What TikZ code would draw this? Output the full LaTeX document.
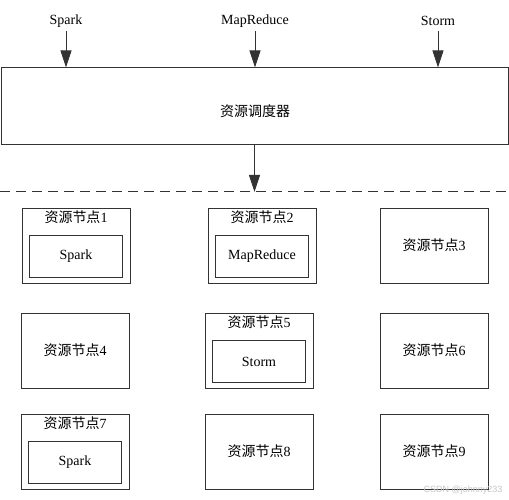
\documentclass[tikz,border=0pt]{standalone}
\usepackage{fontspec}
\setmainfont{Liberation Serif}
\newfontfamily\cjk{Noto Sans CJK SC}
\newfontfamily\wmfont{Liberation Sans}
\usetikzlibrary{arrows.meta}
\newcommand{\zynode}[1]{{\cjk 资源节点}#1}
\begin{document}
\begin{tikzpicture}[x=1pt,y=-1pt,
  every node/.style={font=\fontsize{14}{16}\selectfont},
  linecol/.style={draw=black!80, line width=1pt},
  outerbox/.style={linecol, minimum width=108pt, minimum height=75pt, inner sep=0pt},
  innerbox/.style={linecol, minimum width=93pt, minimum height=42pt, inner sep=0pt},
  lbl/.style={inner sep=0pt},
  arr/.style={linecol, -{Triangle[length=17pt,width=11pt]}},
  dashline/.style={linecol, dash pattern=on 10pt off 6pt}
]
\useasboundingbox (0,0) rectangle (509,500);
\fill[white] (0,0) rectangle (509,500);

% top labels
\node[lbl] (lspark) at (66,21) {Spark};
\node[lbl] (lmr) at (255,21) {MapReduce};
\node[lbl] (lstorm) at (438,21) {Storm};

% scheduler
\node[linecol, minimum width=507pt, minimum height=77pt, inner sep=0pt] (sched) at (254.5,106.5) {};
\node[lbl] (schedtxt) at (255,111) {\cjk 资源调度器};

\draw[arr] ([yshift=-10pt]lspark.center) -- (lspark |- sched.north);
\draw[arr] ([yshift=-10pt]lmr.center) -- (lmr |- sched.north);
\draw[arr] ([yshift=-10pt]lstorm.center) -- (lstorm |- sched.north);

% dashed line
\coordinate (dl) at (0,192);
\coordinate (dr) at (509,192);
\draw[dashline] (dl) -- (dr);
\draw[arr] (sched.south) -- (sched.south |- dl);

% row 1
\node[outerbox] (n1) at (76,245.5) {};
\node[lbl] (t1) at ([yshift=-10pt]n1.north) {\zynode{1}};
\node[innerbox] (i1) at ([yshift=27pt]n1.south) {Spark};

\node[outerbox] (n2) at (262,245.5) {};
\node[lbl] (t2) at ([yshift=-10pt]n2.north) {\zynode{2}};
\node[innerbox] (i2) at ([yshift=27pt]n2.south) {MapReduce};

\node[outerbox] (n3) at (434,245.5) {\zynode{3}};

% row 2
\node[outerbox] (n4) at (75,350.5) {\zynode{4}};

\node[outerbox] (n5) at (259,350.5) {};
\node[lbl] (t5) at ([yshift=-10pt]n5.north) {\zynode{5}};
\node[innerbox] (i5) at ([yshift=27pt]n5.south) {Storm};

\node[outerbox] (n6) at (434,350.5) {\zynode{6}};

% row 3
\node[outerbox] (n7) at (75,451.5) {};
\node[lbl] (t7) at ([yshift=-10pt]n7.north) {\zynode{7}};
\node[innerbox] (i7) at ([yshift=27pt]n7.south) {Spark};

\node[outerbox] (n8) at (259,451.5) {\zynode{8}};
\node[outerbox] (n9) at (434,451.5) {\zynode{9}};

% watermark
\node[lbl, text=gray!45, font=\wmfont\fontsize{9}{10}\selectfont] (wm) at (463,490) {CSDN @johnny233};
\end{tikzpicture}
\end{document}
